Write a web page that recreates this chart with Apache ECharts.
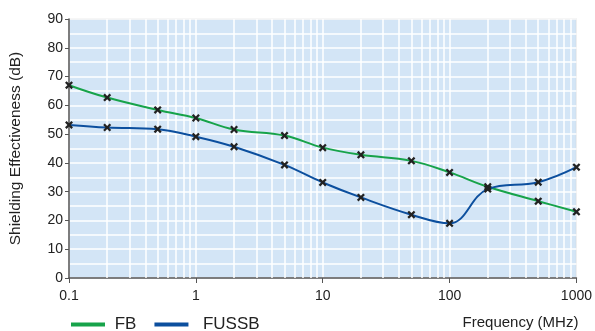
<!DOCTYPE html>
<html>
<head>
<meta charset="utf-8">
<script src="https://cdn.jsdelivr.net/npm/echarts@6/dist/echarts.min.js"></script>
<style>
  html, body { margin: 0; padding: 0; background: #fff; }
  #chart { width: 595px; height: 331px; }
</style>
</head>
<body>
<div id="chart"></div>
<script>
// frequencies in MHz
const freqs = [0.1, 0.2, 0.5, 1, 2, 5, 10, 20, 50, 100, 200, 500, 1000]
const fbValues = [67.0, 62.7, 58.4, 55.6, 51.6, 49.5, 45.3, 42.8, 40.7, 36.7, 31.7, 26.7, 23.0]
const fussbValues = [53.2, 52.3, 51.7, 49.1, 45.6, 39.3, 33.2, 28.0, 22.0, 19.0, 30.9, 33.3, 38.5]
// minor vertical grid (2..9 inside each decade)
const minorFreqs = [0.2, 0.3, 0.4, 0.5, 0.6, 0.7, 0.8, 0.9,
  2, 3, 4, 5, 6, 7, 8, 9,
  20, 30, 40, 50, 60, 70, 80, 90,
  200, 300, 400, 500, 600, 700, 800, 900]

const fbColor = '#17a34a'
const fussbColor = '#0c4f9e'
const crossIcon = 'path://M0,2L2,0L5,3L8,0L10,2L7,5L10,8L8,10L5,7L2,10L0,8L3,5Z'

function pairs(values) {
  return freqs.map((f, i) => [f, values[i]])
}

const chart = echarts.init(document.getElementById('chart'))

chart.setOption({
  animation: false,
  textStyle: { fontFamily: 'Liberation Sans, Arial, sans-serif' },
  grid: {
    left: 68, right: 15, top: 19, bottom: 53,
    show: true,
    backgroundColor: '#d3e5f6',
    borderColor: '#b8b8b8',
    borderWidth: 1
  },
  legend: {
    data: [
      { name: 'FB', itemStyle: { color: fbColor } },
      { name: 'FUSSB', itemStyle: { color: fussbColor } }
    ],
    left: 66, top: 311,
    icon: 'rect',
    itemWidth: 34, itemHeight: 4,
    itemGap: 18,
    formatter: name => name === 'FUSSB' ? '  FUSSB' : ' ' + name,
    textStyle: { fontSize: 17, color: '#222' }
  },
  xAxis: {
    type: 'log',
    logBase: 10,
    min: 0.1, max: 1000,
    name: 'Frequency (MHz)',
    nameLocation: 'end',
    nameGap: 0,
    nameTextStyle: { fontSize: 15, color: '#222', align: 'right', verticalAlign: 'top', padding: [37, -2, 0, 0] },
    axisLine: { lineStyle: { color: '#555', width: 1.5 } },
    axisTick: { show: true, length: 5, lineStyle: { color: '#555' } },
    axisLabel: { fontSize: 14, color: '#222', margin: 11, formatter: v => String(v) },
    splitLine: { show: true, lineStyle: { color: '#fff', width: 1.5 } }
  },
  yAxis: {
    type: 'value',
    min: 0, max: 90, interval: 10,
    name: 'Shielding Effectiveness (dB)',
    nameLocation: 'middle',
    nameGap: 45,
    nameTextStyle: { fontSize: 15.5, color: '#222' },
    axisLine: { show: true, lineStyle: { color: '#555', width: 1.5 } },
    axisTick: { show: true, length: 4, lineStyle: { color: '#555' } },
    axisLabel: { fontSize: 14, color: '#222', margin: 6 },
    splitLine: { show: true, lineStyle: { color: '#fff', width: 1.5 } },
    minorTick: { show: false, splitNumber: 2 },
    minorSplitLine: { show: true, lineStyle: { color: '#fff', width: 1.5 } }
  },
  series: [
    {
      name: 'grid',
      type: 'line',
      data: [],
      z: 1,
      silent: true,
      markLine: {
        z: 1,
        silent: true,
        symbol: 'none',
        label: { show: false },
        lineStyle: { color: '#fff', width: 1.5, type: 'solid' },
        data: minorFreqs.map(v => ({ xAxis: v }))
      }
    },
    {
      name: 'FB',
      type: 'line',
      data: pairs(fbValues),
      smooth: 0.4,
      z: 3,
      symbol: crossIcon,
      symbolSize: 8,
      showAllSymbol: true,
      lineStyle: { width: 2, color: fbColor },
      itemStyle: { color: '#222' }
    },
    {
      name: 'FUSSB',
      type: 'line',
      data: pairs(fussbValues),
      smooth: 0.4,
      z: 3,
      symbol: crossIcon,
      symbolSize: 8,
      showAllSymbol: true,
      lineStyle: { width: 2, color: fussbColor },
      itemStyle: { color: '#222' }
    }
  ]
})
</script>
</body>
</html>
